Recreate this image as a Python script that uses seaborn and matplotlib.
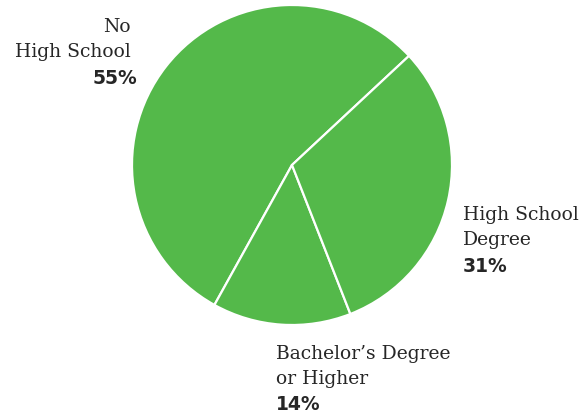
import matplotlib
matplotlib.use("Agg")
import matplotlib.pyplot as plt
import seaborn as sns

# Educational attainment shares (percent)
categories = ["No\nHigh School", "Bachelor\u2019s Degree\nor Higher", "High School\nDegree"]
shares = [55, 14, 31]
pct_labels = ["55%", "14%", "31%"]

sns.set_theme(style="white")
green = "#54B94A"
palette = sns.color_palette([green] * len(shares))

W, H = 586, 417
fig = plt.figure(figsize=(W / 100, H / 100), dpi=100)
ax = fig.add_axes([0, 0, 1, 1])
ax.set_xlim(0, W)
ax.set_ylim(0, H)
ax.axis("off")

ax.pie(shares, colors=palette, startangle=43, counterclock=True,
       center=(292, H - 165), radius=160, frame=True,
       wedgeprops=dict(edgecolor="white", linewidth=1.6))
ax.set_xlim(0, W)
ax.set_ylim(0, H)
ax.axis("off")

serif = dict(family="DejaVu Serif", size=13.5, color="#262626")
bold = dict(family="DejaVu Sans", size=13.5, weight="bold", color="#262626")

# label anchors: (x, top-line y, horizontal alignment, percent x)
anchors = [(131, 27, "right", 137), (276, 354, "left", 276), (463, 215, "left", 463)]
for (x, y, ha, px), cat, pl in zip(anchors, categories, pct_labels):
    lines = cat.split("\n")
    for i, line in enumerate(lines):
        ax.text(x, H - (y + 25 * i), line, ha=ha, va="center", **serif)
    ax.text(px, H - (y + 25 * len(lines) + 1), pl, ha=ha, va="center", **bold)

fig.savefig("out.png", dpi=100)
